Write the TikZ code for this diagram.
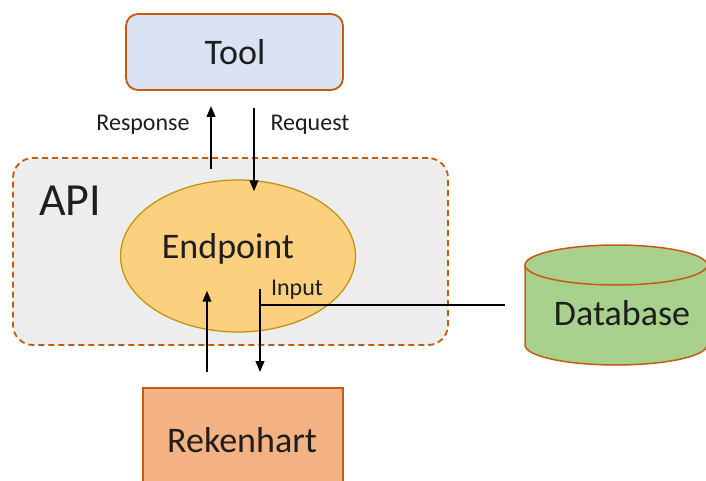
\documentclass[tikz,border=0pt]{standalone}
\usepackage{fontspec}
\setmainfont{Carlito}
\usetikzlibrary{shapes.geometric,arrows.meta,calc}
\definecolor{toolfill}{HTML}{DAE3F3}
\definecolor{brownedge}{HTML}{C55A11}
\definecolor{apifill}{HTML}{EDEDED}
\definecolor{epfill}{HTML}{FBD07E}
\definecolor{epedge}{HTML}{BF9000}
\definecolor{dbfill}{HTML}{A9D18E}
\definecolor{rekfill}{HTML}{F4B183}
\definecolor{txt}{HTML}{1E1E1E}
\tikzset{
  bigtxt/.style={font=\fontsize{36}{40}\selectfont,text=txt},
  smalltxt/.style={font=\fontsize{24}{26}\selectfont,text=txt},
  arr/.style={line width=2.2pt,-{Triangle[length=11pt,width=8.5pt]}},
  plainline/.style={line width=2.2pt},
  boxedge/.style={draw=brownedge,line width=1.8pt}
}
\begin{document}
\begin{tikzpicture}[x=1pt,y=-1pt]
\useasboundingbox (0,0) rectangle (706,481);
% API container
\node[draw=brownedge,line width=1.8pt,dash pattern=on 6pt off 4pt,fill=apifill,rounded corners=20pt,
      minimum width=435,minimum height=187] (api) at (230.5,251.5) {};
\node[font=\fontsize{46}{50}\selectfont,text=txt,anchor=base] (apilabel) at (70,215) {API};
% Tool
\node[boxedge,fill=toolfill,rounded corners=12pt,minimum width=217,minimum height=76] (tool) at (234.5,52) {};
\node[bigtxt,anchor=base] (toollabel) at (235,65) {Tool};
% Endpoint ellipse
\node[ellipse,draw=epedge,line width=1.2pt,fill=epfill,minimum width=235,minimum height=152] (ep) at (238,256) {};
\node[bigtxt,anchor=base] (eplabel) at (228,258) {Endpoint};
% Rekenhart
\node[boxedge,fill=rekfill,minimum width=200,minimum height=106] (rek) at (243,441) {};
\node[bigtxt,anchor=base] (reklabel) at (242,452) {Rekenhart};
% Database cylinder
\node[minimum width=182,minimum height=120] (db) at (616,305) {};
\fill[dbfill] (525,265) -- (525,345) arc[start angle=180,end angle=360,x radius=91,y radius=-20] -- (707,265) -- cycle;
\draw[brownedge,line width=1.5pt] (525,265) -- (525,345) arc[start angle=180,end angle=360,x radius=91,y radius=-20] -- (707,265);
\draw[brownedge,line width=1.5pt,fill=dbfill] (616,265) ellipse[x radius=91,y radius=20];
\node[bigtxt,anchor=base] (dblabel) at (622,325) {Database};
% labels
\node[smalltxt,anchor=base] (resplabel) at (143,131) {Response};
\node[smalltxt,anchor=base] (reqlabel) at (310,131) {Request};
\node[smalltxt,anchor=base] (inlabel) at (297,295) {Input};
% connectors
\draw[arr,shorten <=10pt,shorten >=15pt] ([xshift=-27pt]ep.north) -- ([xshift=-23.5pt]tool.south);
\draw[arr,shorten <=17pt,shorten >=-12pt] ([xshift=19.5pt]tool.south) -- ([xshift=16pt]ep.north);
\draw[arr,shorten <=15pt,shorten >=-42pt] ([xshift=-36pt]rek.north) -- ([xshift=-31pt]ep.south);
\draw[arr,shorten <=-44pt,shorten >=15pt] ([xshift=22pt]ep.south) -- ([xshift=17pt]rek.north);
\coordinate (jn) at (260,305);
\draw[plainline,shorten >=20pt] (jn) -- (db.west |- jn);
\end{tikzpicture}
\end{document}
